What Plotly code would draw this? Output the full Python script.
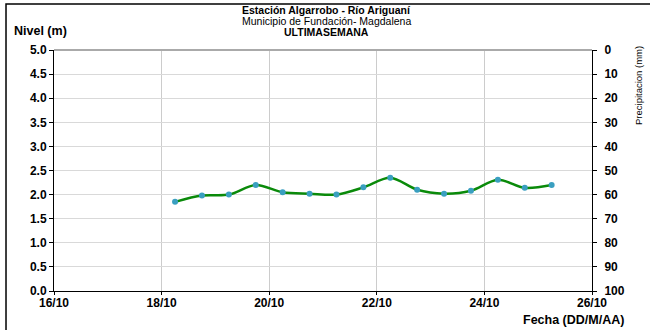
import plotly.graph_objects as go

# Lecturas de nivel cada 12 horas (06:00 y 18:00)
fechas = [
    "2016-10-18 06:00", "2016-10-18 18:00", "2016-10-19 06:00", "2016-10-19 18:00",
    "2016-10-20 06:00", "2016-10-20 18:00", "2016-10-21 06:00", "2016-10-21 18:00",
    "2016-10-22 06:00", "2016-10-22 18:00", "2016-10-23 06:00", "2016-10-23 18:00",
    "2016-10-24 06:00", "2016-10-24 18:00", "2016-10-25 06:00",
]
nivel = [1.85, 1.98, 2.00, 2.20, 2.05, 2.02, 2.00, 2.15, 2.35, 2.10, 2.02, 2.08, 2.31, 2.14, 2.20]

# Precipitación registrada (sin eventos en la semana)
fechas_precip = []
precipitacion = []

FONT = "Liberation Sans, Arial, sans-serif"
TICKFONT = dict(family=FONT, size=12, color="black", weight="bold")

fig = go.Figure()

fig.add_trace(go.Bar(
    x=fechas_precip, y=precipitacion, yaxis="y2",
    marker_color="#4f81bd", showlegend=False, name="Precipitación",
))

fig.add_trace(go.Scatter(
    x=fechas, y=nivel, mode="lines+markers",
    line=dict(color="#0a8a0a", width=2.5, shape="spline", smoothing=0.9),
    marker=dict(color="#3a9fc0", size=6),
    showlegend=False, name="Nivel",
))

fig.update_layout(
    width=650, height=330,
    margin=dict(l=54, r=58, t=50, b=39),
    paper_bgcolor="white", plot_bgcolor="white",
    font=dict(family=FONT, size=11, color="black"),
    xaxis=dict(
        type="date",
        range=["2016-10-16", "2016-10-26"],
        dtick=2 * 86400000, tick0="2016-10-16",
        tickformat="%d/%m",
        showgrid=True, gridcolor="#cccccc", gridwidth=1,
        showline=True, linecolor="black", linewidth=1,
        ticks="outside", ticklen=3, tickcolor="black",
        ticklabelstandoff=-2,
        tickfont=TICKFONT,
        zeroline=False,
    ),
    yaxis=dict(
        range=[0, 5], dtick=0.5, tickformat=".1f",
        showgrid=True, gridcolor="#d9d9d9", gridwidth=1,
        showline=True, linecolor="black", linewidth=1,
        ticks="outside", ticklen=4, tickcolor="black",
        tickfont=TICKFONT,
        zeroline=False,
    ),
    yaxis2=dict(
        overlaying="y", side="right",
        range=[100, 0], dtick=10,
        showgrid=False,
        showline=True, linecolor="black", linewidth=1,
        ticks="outside", ticklen=4, tickcolor="black",
        ticklabelstandoff=5,
        tickfont=TICKFONT,
        zeroline=False,
    ),
)

# Línea superior del área de trazado
fig.add_shape(type="line", xref="paper", yref="paper", x0=0, x1=1, y0=1, y1=1,
              line=dict(color="#aaaaaa", width=2))

# Marco exterior del gráfico
fig.add_shape(type="rect", xref="paper", yref="paper",
              x0=-0.0892, x1=1.12, y0=-0.19, y1=1.191,
              line=dict(color="black", width=1.5), fillcolor="rgba(0,0,0,0)", layer="below")

titulos = [
    ("<b>Estación Algarrobo - Río Ariguaní</b>", 10),
    ("Municipio de Fundación- Magdalena", 21),
    ("<b>ULTIMASEMANA</b>", 32),
]
for texto, ypx in titulos:
    fig.add_annotation(text=texto, xref="paper", yref="paper",
                       x=(326 - 54) / 538, y=(291 - ypx) / 241,
                       xanchor="center", yanchor="middle", showarrow=False,
                       font=dict(family=FONT, size=10.5, color="black"))

fig.add_annotation(text="<b>Nivel (m)</b>", xref="paper", yref="paper",
                   x=(12 - 54) / 538, y=(291 - 31) / 241,
                   xanchor="left", yanchor="middle", showarrow=False,
                   font=dict(family=FONT, size=12.5, color="black"))

fig.add_annotation(text="Precipitacion (mm)", xref="paper", yref="paper",
                   x=(638 - 54) / 538, y=(291 - 86) / 241, textangle=-90,
                   xanchor="center", yanchor="middle", showarrow=False,
                   font=dict(family=FONT, size=9.5, color="black"))

fig.add_annotation(text="<b>Fecha (DD/M/AA)</b>", xref="paper", yref="paper",
                   x=(626 - 54) / 538, y=(291 - 320) / 241,
                   xanchor="right", yanchor="middle", showarrow=False,
                   font=dict(family=FONT, size=12.5, color="black"))

fig.write_html("out.html")
